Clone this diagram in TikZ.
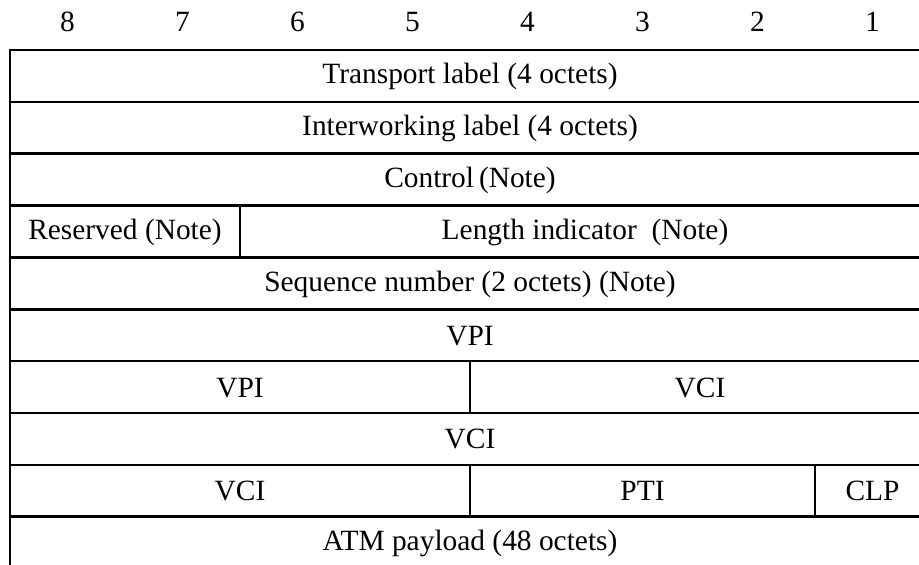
\documentclass[tikz,border=0pt]{standalone}
\usepackage{fontspec}
\setmainfont{Liberation Serif}
\begin{document}
\begin{tikzpicture}[x=0.5pt,y=-0.5pt,
  rule/.style={line width=1.25pt,line cap=rect},
  field/.style={font=\fontsize{14.7pt}{17pt}\selectfont,inner sep=0pt,anchor=center},
  bitno/.style={font=\fontsize{14.7pt}{17pt}\selectfont,inner sep=0pt,anchor=center}]
\useasboundingbox (0,0) rectangle (919,564);
\clip (0,0) rectangle (919,564);
% bit numbers above the octet columns
\foreach \b [count=\i from 0] in {8,7,6,5,4,3,2,1}
  \node[bitno] (bit\b) at ({67.5+115*\i},22) {\b};
% horizontal rules between octets
\foreach \k in {0,...,9}
  \draw[rule] (10,{50+51.85*\k}) -- (940,{50+51.85*\k});
% left edge
\draw[rule] (10,50) -- (10,570);
% field dividers
\draw[rule] (240,205.55) -- (240,257.4);
\draw[rule] (470,361.1) -- (470,412.95);
\draw[rule] (470,464.8) -- (470,516.65);
\draw[rule] (815,464.8) -- (815,516.65);
% field labels
\node[field] (transport) at (470,76) {Transport label (4 octets)};
\node[field] (interwork) at (470,128) {Interworking label (4 octets)};
\node[field] (control) at (470,180) {Control\,(Note)};
\node[field] (reserved) at (125,232) {Reserved (Note)};
\node[field] (length) at (585,232) {Length indicator\ \ (Note)};
\node[field] (seq) at (470,284) {Sequence number (2 octets) (Note)};
\node[field] (vpia) at (470,336) {VPI};
\node[field] (vpib) at (240,388) {VPI};
\node[field] (vcia) at (700,388) {VCI};
\node[field] (vcib) at (470,439) {VCI};
\node[field] (vcic) at (240,491) {VCI};
\node[field] (pti) at (642.5,491) {PTI};
\node[field] (clp) at (872.5,491) {CLP};
\node[field] (payload) at (470,543) {ATM payload (48 octets)};
\end{tikzpicture}
\end{document}
